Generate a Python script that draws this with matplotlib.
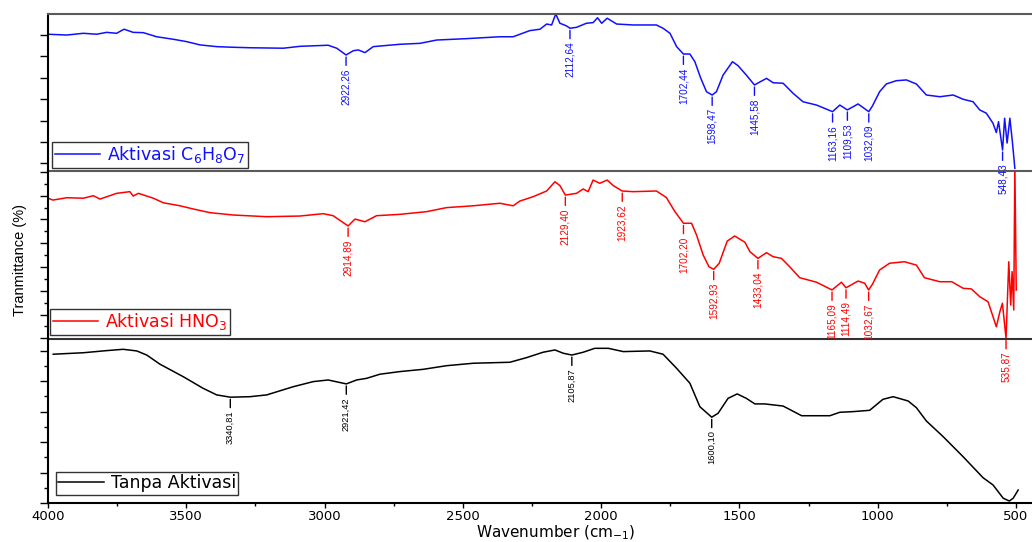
import matplotlib
matplotlib.use("Agg")
import matplotlib.pyplot as plt
import numpy as np
from matplotlib import font_manager
from matplotlib.ticker import MultipleLocator

# FTIR spectra (transmittance in % of each panel)
wn_c6h8o7 = [4000, 3932, 3872, 3824, 3788, 3752, 3725, 3692, 3655, 3607, 3547, 3499, 3450, 3390,
             3330, 3270, 3149, 3089, 2987, 2956, 2922.26, 2896, 2878, 2854, 2824, 2728, 2655, 2595,
             2486, 2366, 2318, 2258, 2221, 2197, 2179, 2164, 2149, 2125, 2112.64, 2089, 2053, 2029,
             2013, 1998, 1978, 1944, 1884, 1800, 1776, 1751, 1727, 1702.44, 1679, 1661, 1640, 1619,
             1598.47, 1583, 1559, 1525, 1505, 1475, 1445.58, 1402, 1378, 1342, 1306, 1270, 1221,
             1163.16, 1137, 1109.53, 1071, 1032.09, 1019, 993, 969, 933, 896, 860, 824, 775, 727,
             691, 655, 631, 607, 583, 571, 563, 548.43, 541, 532, 522, 513, 504]
t_c6h8o7 = [87.1, 86.6, 87.7, 87.1, 88.3, 87.7, 90.3, 88.3, 88.1, 85.5, 83.9, 82.4, 80.3, 79.2,
            78.8, 78.5, 78.2, 79.4, 80.1, 78.2, 73.9, 76.6, 77.1, 75.4, 79.2, 80.7, 81.3, 83.4,
            84.3, 85.5, 85.5, 89.4, 90.3, 93.6, 93.0, 100.0, 94.1, 92.4, 90.9, 91.5, 94.1, 94.5,
            97.6, 94.1, 97.3, 93.6, 93.0, 93.0, 90.9, 87.7, 79.2, 74.5, 74.5, 69.6, 59.2, 50.5,
            48.4, 50.5, 61.1, 69.6, 67.1, 61.1, 54.8, 59.0, 56.2, 55.9, 49.5, 44.1, 42.0,
            37.8, 42.0, 38.9, 42.7, 37.8, 41.4, 50.5, 55.4, 57.5, 58.0, 55.4, 48.4, 47.3, 48.4,
            45.7, 44.1, 38.9, 36.8, 30.4, 24.5, 31.4, 13.4, 33.6, 17.8, 33.6, 18.7, 1.7]

wn_hno3 = [4000, 3982, 3932, 3872, 3836, 3812, 3752, 3704, 3692, 3673, 3619, 3583, 3523, 3475,
           3414, 3330, 3209, 3089, 3005, 2969, 2914.89, 2890, 2854, 2812, 2728, 2631, 2559, 2462,
           2366, 2318, 2294, 2246, 2197, 2167, 2149, 2129.40, 2089, 2065, 2047, 2029, 2005, 1978,
           1956, 1923.62, 1884, 1800, 1764, 1733, 1702.20, 1673, 1655, 1631, 1610, 1592.93, 1573,
           1544, 1517, 1480, 1462, 1433.04, 1402, 1378, 1348, 1318, 1282, 1221, 1165.09, 1131,
           1114.49, 1071, 1047, 1032.67, 1019, 993, 957, 903, 860, 831, 775, 732, 691, 661, 631,
           601, 589, 571, 558, 549, 535.87, 526, 519, 514, 508, 504, 499]
t_hno3 = [83.8, 82.7, 84.1, 83.8, 85.3, 83.3, 86.7, 87.7, 85.1, 86.7, 83.8, 81.1, 79.3, 77.4,
          75.2, 73.8, 72.8, 73.2, 74.6, 73.4, 67.3, 71.4, 69.8, 73.4, 74.2, 75.8, 78.2, 79.3,
          80.8, 79.3, 82.1, 84.7, 88.1, 93.6, 91.3, 85.7, 86.7, 89.3, 87.7, 94.6, 92.7, 94.6,
          91.3, 88.1, 87.7, 88.1, 84.2, 75.8, 68.9, 68.9, 61.9, 50.0, 43.0, 41.5, 45.1,
          58.3, 61.3, 57.6, 52.0, 48.0, 51.4, 49.0, 48.0, 43.0, 36.5, 33.8, 29.2, 33.8,
          30.5, 34.5, 33.2, 29.2, 32.6, 41.1, 45.1, 46.0, 44.0, 36.5, 34.1, 34.1, 30.2, 29.8, 25.2,
          22.2, 16.3, 7.3, 16.3, 21.3, 0.4, 46.0, 20.2, 40.1, 17.3, 103.6, 29.2]

wn_raw = [3981, 3872, 3788, 3728, 3679, 3643, 3595, 3511, 3439, 3390, 3340.81, 3270, 3209, 3113,
          3041, 2987, 2921.42, 2884, 2848, 2800, 2728, 2643, 2559, 2462, 2330, 2270, 2210, 2167,
          2137, 2105.87, 2065, 2023, 1974, 1920, 1824, 1776, 1727, 1679, 1643, 1600.10, 1577,
          1541, 1508, 1475, 1444, 1408, 1342, 1275, 1173, 1137, 1089, 1029, 981, 944, 890, 860,
          824, 763, 691, 619, 583, 546, 524, 510, 492]
t_raw = [90.7, 91.6, 92.9, 93.7, 92.7, 90.2, 84.6, 77.0, 69.9, 65.9, 64.5, 64.8, 65.9, 70.9,
         74.0, 75.0, 72.6, 75.0, 76.0, 78.5, 80.1, 81.5, 83.7, 85.2, 85.8, 88.6, 91.9, 93.3,
         91.3, 90.2, 91.9, 94.3, 94.3, 92.3, 92.7, 90.7, 82.1, 73.0, 58.7, 52.3, 54.7,
         63.8, 66.5, 63.8, 60.4, 60.4, 59.1, 53.2, 53.2, 55.3, 55.7, 56.5, 63.2, 64.8, 62.2, 58.1,
         50.0, 40.4, 28.2, 15.4, 11.0, 2.9, 1.2, 2.9, 7.9]

peaks_c6h8o7 = [2922.26, 2112.64, 1702.44, 1598.47, 1445.58, 1163.16, 1109.53, 1032.09, 548.43]
peaks_hno3 = [2914.89, 2129.40, 1923.62, 1702.20, 1592.93, 1433.04, 1165.09, 1114.49, 1032.67, 535.87]
peaks_raw = [3340.81, 2921.42, 2105.87, 1600.10]

labels = ["Aktivasi C$_6$H$_8$O$_7$", "Aktivasi HNO$_3$", "Tanpa Aktivasi"]
colors = ["#1010ff", "#ff0000", "#000000"]

# narrow font for the peak labels if there is one
try:
    font_manager.findfont("Liberation Sans Narrow", fallback_to_default=False)
    ann_font, ann_size = "Liberation Sans Narrow", 8.8
except ValueError:
    ann_font, ann_size = "Liberation Sans", 7.2

fig = plt.figure(figsize=(10.32, 5.42), dpi=100)
left = 48 / 1032
boxes = [(0.6845, 0.2897), (0.3745, 0.3100), (0.0720, 0.3026)]
leg_anchor = [(0.004, 0.019), (0.002, 0.024), (0.008, 0.049)]
ytick = [(13.63, None, 4.84), (14.15, 7.075, 0.42), (18.57, 9.285, 0.0)]
series = [(wn_c6h8o7, t_c6h8o7, peaks_c6h8o7), (wn_hno3, t_hno3, peaks_hno3), (wn_raw, t_raw, peaks_raw)]

axes = []
for i, ((b, h), (wn, t, peaks)) in enumerate(zip(boxes, series)):
    ax = fig.add_axes([left, b, 1 - left, h])
    ax.patch.set_visible(False)
    ax.set_xlim(4000, 442)
    ax.set_ylim(0, 100)
    ax.plot(wn, t, color=colors[i], lw=1.1, label=labels[i])

    wn_a = np.array(wn)[::-1]
    t_a = np.array(t)[::-1]
    size = ann_size if i < 2 else ann_size * 0.93
    for p in peaks:
        yv = np.interp(p, wn_a, t_a)
        ax.annotate(f"{p:.2f}".replace(".", ","), xy=(p, yv), xytext=(0, -9.5),
                    textcoords="offset points", rotation=90, ha="center", va="top",
                    color=colors[i], fontsize=size, family=ann_font,
                    arrowprops=dict(arrowstyle="-", color=colors[i], lw=1.0, shrinkA=0, shrinkB=1.5),
                    annotation_clip=False)

    leg = ax.legend(loc="lower left", bbox_to_anchor=leg_anchor[i], borderaxespad=0,
                    fancybox=False, edgecolor="black", fontsize=12.5, handlelength=2.6,
                    handletextpad=0.4, borderpad=0.15, labelcolor="linecolor")
    leg.get_frame().set_linewidth(1.0)

    base, minor, off = ytick[i]
    ax.yaxis.set_major_locator(MultipleLocator(base, offset=off))
    if minor:
        ax.yaxis.set_minor_locator(MultipleLocator(minor, offset=off))
    ax.tick_params(axis="y", which="major", direction="out", length=5.8, width=1, labelleft=False)
    ax.tick_params(axis="y", which="minor", direction="out", length=2.9, width=1)

    ax.spines["right"].set_visible(False)
    ax.spines["left"].set_linewidth(1.5)
    ax.spines["left"].set_color("black")
    if i == 0:
        ax.spines["top"].set_color("#5a5a5a")
        ax.spines["top"].set_linewidth(1.5)
    else:
        ax.spines["top"].set_visible(False)
    ax.spines["bottom"].set_linewidth(1.5)
    ax.spines["bottom"].set_color(["#5a5a5a", "#333333", "black"][i])

    if i < 2:
        ax.tick_params(axis="x", which="both", bottom=False, labelbottom=False)
    else:
        ax.xaxis.set_major_locator(MultipleLocator(500))
        ax.xaxis.set_minor_locator(MultipleLocator(250))
        ax.tick_params(axis="x", which="major", direction="out", length=3.6, width=1,
                       labelsize=9.5, pad=1.5)
        ax.tick_params(axis="x", which="minor", direction="out", length=2.2, width=1)
    axes.append(ax)

fig.text(0.0194, 0.5203, "Tranmittance (%)", rotation=90, ha="center", va="center",
         fontsize=10.5, family="Liberation Sans")
fig.text(556 / 1032, 1 - 537 / 542, "Wavenumber (cm$_{-1}$)", ha="center", va="baseline",
         fontsize=11)

fig.savefig("out.png", dpi=100)
